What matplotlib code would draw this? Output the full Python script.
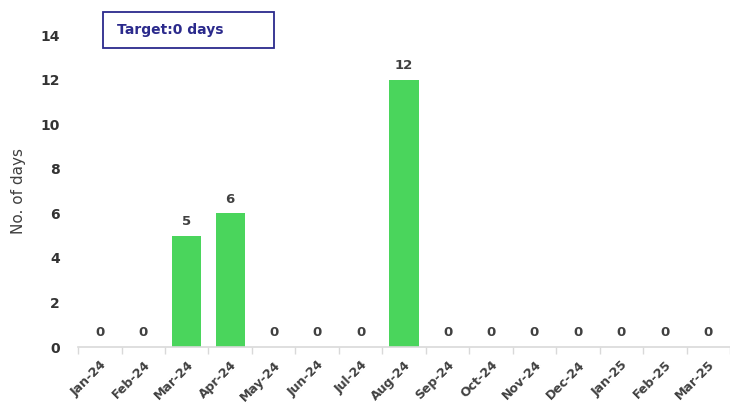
import matplotlib.pyplot as plt
import matplotlib.patches as patches
import numpy as np

# Monthly data
months = ['Jan-24', 'Feb-24', 'Mar-24', 'Apr-24', 'May-24', 'Jun-24', 'Jul-24', 'Aug-24',
          'Sep-24', 'Oct-24', 'Nov-24', 'Dec-24', 'Jan-25', 'Feb-25', 'Mar-25']
days = [0, 0, 5, 6, 0, 0, 0, 12, 0, 0, 0, 0, 0, 0, 0]
y_ticks = [0, 2, 4, 6, 8, 10, 12, 14]
target_text = 'Target:0 days'

fig = plt.figure(figsize=(7.3, 4.04), dpi=100)
ax = fig.add_axes([0.107, 0.141, 0.893, 0.772])

x = np.arange(len(months))
bars = ax.bar(x, days, width=0.67, color='#4AD55C')

for xi, v in zip(x, days):
    ax.text(xi, v + 0.35, str(v), ha='center', va='bottom', fontsize=9.5,
            fontweight='bold', color='#404040')

ax.set_xlim(-0.5, 14.42)
ax.set_ylim(0, 14)
ax.set_yticks(y_ticks)
ax.set_xticks(x)
ax.set_xticklabels(months, rotation=45, ha='right', rotation_mode='anchor',
                   fontsize=9, fontweight='bold', color='#404040')
ax.set_xticks(np.arange(-0.5, len(months), 1), minor=True)
ax.tick_params(axis='x', which='major', length=0, pad=8)
ax.tick_params(axis='x', which='minor', length=5, color='#D9D9D9', width=1)
ax.tick_params(axis='y', length=0, pad=13, labelsize=10, labelcolor='#333333')
for lbl in ax.get_yticklabels():
    lbl.set_fontweight('bold')

for side in ['top', 'right', 'left']:
    ax.spines[side].set_visible(False)
ax.spines['bottom'].set_color('#D9D9D9')
ax.spines['bottom'].set_linewidth(1.2)

ax.set_ylabel('No. of days', fontsize=11, color='#404040')
ax.yaxis.set_label_coords(-0.08, 0.5)

# Target box
fig.patches.append(patches.Rectangle((0.141, 0.881), 0.234, 0.089,
                                     transform=fig.transFigure, facecolor='white',
                                     edgecolor='#2B2A8C', linewidth=1.3))
fig.text(0.160, 0.926, target_text, fontsize=10, fontweight='bold',
         color='#2B2A8C', va='center', ha='left')

fig.savefig('out.png', dpi=100)
